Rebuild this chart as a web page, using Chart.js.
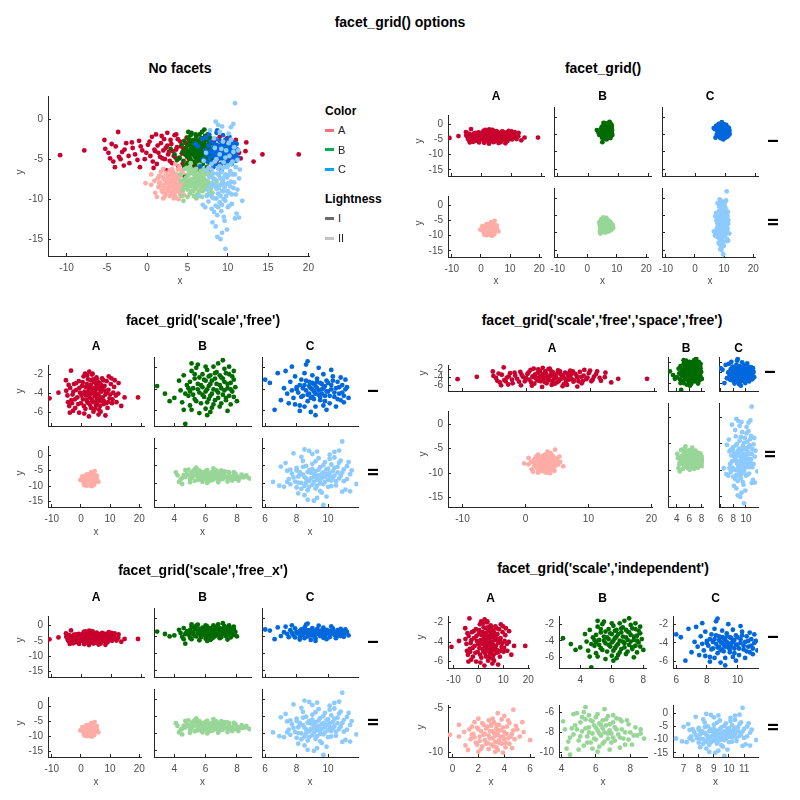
<!DOCTYPE html>
<html>
<head>
<meta charset="utf-8">
<script src="https://cdn.jsdelivr.net/npm/chart.js@4.4.1/dist/chart.umd.min.js"></script>
<style>
  body { margin: 0; background: #fff; font-family: "Liberation Sans", Arial, sans-serif; }
  #page { position: relative; width: 800px; height: 800px; overflow: hidden; }
  canvas { position: absolute; }
  .t { position: absolute; transform: translate(-50%, -50%); white-space: nowrap; color: #000; line-height: 1; }
  .title { font-weight: bold; font-size: 14px; }
  .col { font-weight: bold; font-size: 12px; }
  .row { font-weight: bold; font-size: 15px; transform: translate(-50%, -50%) rotate(-90deg); }
  .ax { font-size: 10px; color: #4d4d4d; }
  .axy { font-size: 10px; color: #4d4d4d; transform: translate(-50%, -50%) rotate(-90deg); }
  .leg { font-size: 11px; color: #222; transform: translate(0, -50%); }
  .legh { font-weight: bold; font-size: 12px; transform: translate(0, -50%); }
  .bar { position: absolute; width: 9px; height: 3px; }
</style>
</head>
<body>
<div id="page"></div>
<script>
// point clouds: [x, y]
const ptsA1 = [[-10.8,-4.5],[-7.8,-3.9],[-3.6,-1.6],[18.8,-4.4],[14.3,-4.4],[13.2,-5.3],[2.4,-6.4],[7.9,-6.3],[-4.0,-6.0],[2.5,-1.7],[-5.3,-2.6],[12.3,-2.9],[11.6,-4.9],
  [-5.2,-3.7],[-4.6,-4.9],[-4.2,-5.3],[-3.9,-3.4],[-3.1,-4.1],[-2.6,-3.0],[-2.2,-5.5],[-1.8,-3.6],[-1.5,-4.4],[-1.0,-2.7],[-0.6,-3.9],[-0.3,-5.0],[0.1,-3.2],[0.4,-4.6],[0.6,-2.2],[0.9,-3.8],[1.2,-5.6],[1.4,-4.2],[1.7,-3.0],[1.9,-4.9],[2.1,-2.5],[2.3,-3.6],[2.6,-4.4],[2.8,-5.2],[3.0,-3.1],[3.2,-4.0],[3.4,-2.0],[3.5,-4.8],[3.7,-3.5],[3.9,-5.9],[4.1,-2.8],[4.3,-4.3],[4.5,-3.7],[4.7,-5.3],[4.9,-2.3],[5.1,-4.6],[5.3,-3.3],[5.5,-4.0],[5.8,-5.7],[6.0,-2.9],[6.2,-4.8],[6.5,-3.8],[6.8,-2.4],[7.0,-4.4],[7.3,-5.1],[7.6,-3.2],[7.9,-4.1],[8.3,-2.7],[8.6,-5.5],[8.9,-3.6],[9.3,-4.5],[9.7,-3.0],[10.1,-5.0],[10.5,-3.9],[11.0,-2.6],[11.4,-4.2],[12.2,-4.0],[0.8,-6.1],[5.6,-6.2],[-2.9,-5.8],[3.6,-1.9],[9.0,-2.2],
  [-4.8,-4.2],[-4.4,-3.1],[-3.5,-4.7],[-2.8,-3.8],[-2.3,-4.6],[-1.9,-2.9],[-1.2,-5.1],[-0.8,-3.4],[-0.1,-4.2],[0.3,-2.8],[0.7,-5.3],[1.0,-4.0],[1.3,-3.3],[1.6,-4.7],[1.8,-2.1],[2.0,-3.9],[2.2,-5.0],[2.5,-3.3],[2.7,-4.1],[2.9,-2.6],[3.1,-5.5],[3.3,-4.6],[3.6,-3.8],[3.8,-2.5],[4.0,-4.9],[4.2,-3.4],[4.4,-5.6],[4.6,-4.1],[4.8,-3.0],[5.0,-5.0],[5.2,-2.6],[5.4,-4.4],[5.7,-3.5],[5.9,-4.3],[6.1,-5.3],[6.4,-3.1],[6.6,-4.6],[6.9,-3.4],[7.2,-2.6],[7.4,-4.8],[7.8,-3.7],[8.1,-5.0],[8.5,-3.9],[8.8,-4.9],[9.5,-4.1],[9.9,-2.4],[10.3,-4.6],[10.8,-3.3],[-3.3,-5.0],[-0.9,-6.0],[6.3,-5.9],[1.1,-1.9]];
const ptsB1 = [[2.9,-3.7],[3.4,-4.4],[4.0,-4.8],[3.7,-5.1],[4.5,-5.2],[4.7,-7.2],[7.1,-1.3],[5.1,-1.6],[7.6,-5.4],[8.0,-5.1],[6.3,-6.1],[5.6,-6.2],[7.8,-3.1],
  [4.3,-3.2],[4.4,-4.1],[4.6,-2.7],[4.8,-3.6],[4.9,-4.6],[5.0,-5.5],[5.1,-2.3],[5.2,-3.9],[5.3,-3.0],[5.3,-4.9],[5.4,-2.0],[5.5,-3.5],[5.6,-4.3],[5.7,-5.3],[5.8,-2.6],[5.8,-3.8],[5.9,-4.7],[6.0,-3.2],[6.0,-5.8],[6.1,-2.2],[6.1,-4.0],[6.2,-4.9],[6.3,-3.5],[6.3,-2.7],[6.4,-4.4],[6.5,-5.4],[6.5,-1.9],[6.6,-3.0],[6.7,-4.1],[6.7,-2.4],[6.8,-4.8],[6.9,-3.6],[6.9,-5.6],[7.0,-2.9],[7.1,-4.5],[7.2,-3.3],[7.2,-2.1],[7.3,-5.0],[7.4,-3.9],[7.5,-4.6],[7.5,-2.6],[7.6,-3.4],[7.7,-4.2],[7.8,-2.3],[7.9,-3.8],[6.1,-6.4],[5.0,-4.2],[4.6,-5.9],[6.8,-1.6],[7.4,-6.0],[5.5,-1.7],
  [5.0,-3.3],[5.2,-4.5],[5.3,-2.6],[5.4,-5.1],[5.5,-4.0],[5.6,-2.9],[5.7,-3.6],[5.8,-4.5],[5.9,-3.1],[6.0,-4.2],[6.1,-5.2],[6.2,-2.8],[6.2,-3.7],[6.3,-4.6],[6.4,-3.2],[6.5,-4.0],[6.6,-2.5],[6.6,-5.0],[6.7,-3.5],[6.8,-4.3],[6.9,-2.7],[7.0,-3.9],[7.0,-5.3],[7.1,-3.0],[7.2,-4.1],[7.3,-2.5],[7.3,-4.8],[7.4,-3.5],[7.6,-4.0],[7.7,-2.8],[7.8,-4.7],[4.9,-3.9],[4.7,-4.4],[5.1,-5.9],[6.4,-5.7],[7.5,-1.9],[6.0,-1.9]];
const ptsC1 = [[6.0,-3.1],[6.3,-3.4],[6.6,-5.9],[6.8,-2.5],[7.7,-1.9],[8.7,-1.4],[8.6,-1.7],[9.2,-6.4],[9.9,-5.9],[10.8,-2.9],[11.2,-3.8],[11.0,-5.2],[7.0,-5.0],[7.5,-5.3],
  [7.2,-3.9],[7.4,-4.4],[7.6,-3.3],[7.8,-4.8],[7.9,-2.8],[8.0,-3.8],[8.1,-4.3],[8.2,-5.5],[8.3,-3.1],[8.4,-4.6],[8.5,-2.5],[8.5,-3.6],[8.6,-4.1],[8.7,-5.1],[8.8,-3.3],[8.8,-4.4],[8.9,-3.9],[9.0,-2.7],[9.0,-4.7],[9.1,-3.5],[9.1,-4.2],[9.2,-5.6],[9.3,-3.0],[9.3,-3.9],[9.4,-4.5],[9.5,-3.4],[9.5,-5.0],[9.6,-4.0],[9.7,-2.6],[9.8,-3.7],[9.8,-4.6],[9.9,-3.2],[10.0,-4.2],[10.1,-5.3],[10.2,-3.6],[10.3,-2.8],[10.4,-4.7],[10.5,-3.9],[10.6,-3.3],[10.7,-4.4],[10.9,-3.6],[11.0,-4.6],[11.1,-4.0],[11.3,-4.8],[8.2,-6.0],[8.9,-6.1],[7.3,-2.3],[9.4,-2.0],[10.2,-2.2],[10.5,-5.6],
  [8.0,-4.0],[8.2,-3.6],[8.3,-4.7],[8.4,-3.9],[8.6,-3.2],[8.7,-4.5],[8.8,-3.7],[8.9,-4.8],[9.0,-3.4],[9.0,-4.0],[9.1,-4.9],[9.2,-3.7],[9.2,-4.4],[9.3,-3.3],[9.4,-4.1],[9.5,-4.7],[9.6,-3.5],[9.6,-4.4],[9.7,-3.9],[9.8,-5.1],[9.9,-4.2],[10.0,-3.4],[10.1,-4.6],[10.2,-4.0],[10.3,-3.2],[10.4,-4.3],[10.6,-4.9],[10.7,-3.8],[10.9,-4.3],[11.1,-3.1],[7.9,-5.4],[8.5,-5.6],[7.7,-4.1],[9.7,-5.5],[10.8,-5.0]];
const ptsA2 = [[-0.2,-8.0],[0.5,-6.9],[0.5,-8.2],[4.7,-5.2],[3.5,-5.6],[4.0,-5.9],[6.0,-8.6],[5.4,-6.6],[4.9,-7.0],[1.0,-9.2],[1.2,-9.7],[2.0,-9.9],[3.3,-9.9],[3.9,-10.0],[2.0,-6.2],[4.4,-9.0],
  [1.3,-7.4],[1.4,-8.5],[1.6,-7.9],[1.7,-6.6],[1.8,-8.9],[1.9,-7.2],[2.1,-8.2],[2.2,-7.6],[2.3,-9.3],[2.4,-6.9],[2.5,-8.6],[2.5,-7.9],[2.6,-7.3],[2.7,-8.9],[2.8,-6.4],[2.8,-8.1],[2.9,-7.6],[3.0,-9.1],[3.0,-7.0],[3.1,-8.4],[3.2,-7.8],[3.2,-6.6],[3.3,-8.8],[3.4,-7.3],[3.4,-9.4],[3.5,-8.0],[3.6,-6.9],[3.6,-8.6],[3.7,-7.5],[3.8,-9.0],[3.8,-6.3],[3.9,-8.2],[4.0,-7.7],[4.1,-8.9],[4.2,-7.1],[4.3,-8.4],[4.4,-6.7],[4.6,-7.9],[4.8,-8.5],[5.0,-7.4],[1.5,-8.0],[2.2,-9.6],[3.5,-9.7],[4.6,-9.5],[0.9,-7.7],[5.2,-8.2],
  [1.5,-7.1],[1.7,-8.3],[2.0,-7.4],[2.1,-8.7],[2.3,-6.7],[2.4,-8.0],[2.6,-9.0],[2.7,-7.1],[2.9,-8.4],[3.0,-6.8],[3.1,-7.6],[3.2,-9.3],[3.3,-8.1],[3.4,-6.9],[3.5,-7.6],[3.6,-8.9],[3.7,-8.2],[3.9,-7.2],[4.0,-8.5],[4.2,-7.9],[4.3,-6.4],[4.5,-8.2],[4.7,-7.5],[2.8,-9.6],[1.9,-9.1],[3.1,-6.2],[4.1,-9.4],[5.5,-7.7]];
const ptsB2 = [[4.1,-6.9],[4.2,-7.7],[4.4,-8.9],[4.3,-9.6],[4.5,-10.2],[5.4,-5.5],[6.5,-5.7],[8.6,-7.7],[8.8,-8.6],[8.1,-9.2],[7.7,-9.2],[4.7,-6.2],[4.9,-6.1],[5.6,-6.3],[7.4,-6.7],[7.8,-6.8],[6.1,-9.9],
  [4.7,-8.2],[4.8,-7.3],[5.0,-8.8],[5.1,-7.0],[5.2,-7.9],[5.3,-9.3],[5.4,-6.7],[5.5,-8.4],[5.6,-7.5],[5.7,-9.0],[5.8,-6.9],[5.8,-8.1],[5.9,-7.3],[6.0,-8.7],[6.0,-6.5],[6.1,-7.8],[6.2,-9.4],[6.2,-7.1],[6.3,-8.3],[6.4,-6.8],[6.4,-7.6],[6.5,-8.9],[6.6,-7.3],[6.7,-8.1],[6.7,-6.4],[6.8,-7.8],[6.9,-9.0],[7.0,-7.0],[7.0,-8.5],[7.1,-7.5],[7.2,-6.6],[7.3,-8.2],[7.4,-9.5],[7.5,-7.7],[7.6,-8.6],[7.9,-7.2],[8.0,-8.0],[8.3,-7.5],[8.4,-8.3],[5.3,-6.0],[6.8,-9.7],[4.6,-7.6],[5.0,-9.7],
  [4.9,-7.7],[5.1,-8.4],[5.2,-6.5],[5.4,-7.6],[5.5,-9.0],[5.6,-8.0],[5.7,-6.8],[5.9,-8.6],[6.0,-7.5],[6.1,-6.2],[6.2,-8.1],[6.3,-7.3],[6.4,-9.1],[6.5,-8.0],[6.6,-6.7],[6.7,-8.6],[6.8,-7.2],[6.9,-8.1],[7.0,-6.3],[7.1,-8.8],[7.2,-7.7],[7.4,-8.5],[7.5,-6.9],[7.7,-8.0],[7.9,-8.7],[8.2,-8.3],[5.8,-9.6],[4.5,-8.5],[8.6,-8.1]];
const ptsC2 = [[6.5,-9.6],[6.9,-10.7],[10.9,2.0],[10.7,-0.6],[10.4,-1.0],[11.8,-10.2],[9.7,-16.2],[8.5,-0.3],[8.8,-0.7],[7.8,-1.4],[11.5,-6.3],[11.4,-7.4],[10.9,-12.4],[11.1,-11.8],[8.1,-12.9],[8.5,-13.4],[9.3,-14.2],[9.1,-15.0],[11.4,-12.3],[7.0,-5.2],[7.3,-4.2],
  [7.4,-6.4],[7.5,-8.8],[7.6,-10.3],[7.7,-7.2],[7.9,-9.5],[8.0,-5.6],[8.0,-11.2],[8.1,-8.1],[8.2,-6.8],[8.3,-9.9],[8.4,-3.6],[8.4,-7.5],[8.5,-10.8],[8.6,-5.0],[8.6,-8.7],[8.7,-12.0],[8.8,-6.2],[8.8,-9.3],[8.9,-7.0],[9.0,-10.4],[9.0,-4.4],[9.1,-8.2],[9.2,-11.5],[9.2,-6.6],[9.3,-9.0],[9.4,-2.8],[9.4,-7.7],[9.5,-10.0],[9.5,-5.4],[9.6,-12.7],[9.6,-8.5],[9.7,-6.9],[9.8,-3.9],[9.8,-9.6],[9.9,-7.3],[10.0,-5.8],[10.0,-11.0],[10.1,-8.0],[10.2,-4.6],[10.2,-9.2],[10.3,-6.5],[10.4,-2.6],[10.4,-7.8],[10.5,-10.6],[10.6,-5.3],[10.7,-8.6],[10.8,-3.5],[10.9,-6.9],[11.0,-9.4],[11.2,-5.1],[9.9,-13.8],[8.7,-14.7],[10.1,-1.8],[7.2,-11.0],[9.3,-0.9],
  [7.8,-8.3],[8.0,-6.3],[8.1,-9.8],[8.2,-7.4],[8.3,-11.6],[8.4,-5.3],[8.5,-8.2],[8.6,-9.9],[8.7,-6.8],[8.8,-11.0],[8.9,-8.6],[9.0,-5.9],[9.1,-9.6],[9.1,-7.4],[9.2,-3.7],[9.3,-10.7],[9.3,-8.0],[9.4,-6.1],[9.5,-9.0],[9.5,-12.2],[9.6,-7.2],[9.7,-4.8],[9.7,-10.2],[9.8,-8.1],[9.9,-6.0],[10.0,-9.0],[10.1,-3.0],[10.1,-7.0],[10.2,-10.8],[10.3,-8.4],[10.4,-5.6],[10.5,-9.4],[10.6,-6.9],[10.7,-4.1],[10.8,-7.9],[11.0,-6.0],[11.2,-8.8],[7.6,-6.1],[7.4,-9.6],[8.3,-2.4],[9.0,-1.6],[11.3,-3.9]];

const colorNames = ["A", "B", "C"];
const lightNames = ["I", "II"];
const pointColors = [["#c8002e", "#006c00", "#0068dc"], ["#ffaca6", "#98d698", "#8ccaff"]];
const legendColors = ["#ff6f76", "#00b04f", "#00a6ff"];
const legendLight = ["#6b6b6b", "#c4c4c4"];

// tick values
const ticksNoFacetX = [-10, -5, 0, 5, 10, 15, 20];
const ticksWideX = [-10, 0, 10, 20];
const ticksFullY = [0, -5, -10, -15];
const ticksTopY = [-2, -4, -6];
const ticksBX = [4, 6, 8];
const ticksCX = [6, 8, 10];
const ticksA2X = [0, 2, 4, 6];
const ticksA2Y = [-5, -10];
const ticksB2Y = [-6, -8, -10];
const ticksC2X = [7, 8, 9, 10, 11];

const grid = [[ptsA1, ptsB1, ptsC1], [ptsA2, ptsB2, ptsC2]];

const page = document.getElementById("page");
const FONT = "'Liberation Sans', Arial, sans-serif";
const YW = 40, XH = 22, PT = 6, PR = 10;

function axis(range, ticks, showLabels, dir) {
  return {
    type: "linear",
    min: range[0],
    max: range[1],
    afterBuildTicks: (s) => { s.ticks = ticks.map((v) => ({ value: v })); },
    afterFit: (s) => { if (dir === "x") s.height = XH; else s.width = YW; },
    grid: { display: true, drawOnChartArea: false, drawTicks: true, tickLength: -3, color: "#262626", lineWidth: 1 },
    border: { display: true, color: "#262626", width: 1 },
    ticks: {
      display: showLabels,
      color: "#4d4d4d",
      font: { size: 10, family: FONT },
      padding: dir === "x" ? 9 : 8,
      maxRotation: 0,
      autoSkip: false,
    },
  };
}

function addPanel(box, series, xr, yr, xt, yt, showX, showY) {
  const [l, t, r, b] = box;
  const cv = document.createElement("canvas");
  cv.width = YW + (r - l) + PR;
  cv.height = PT + (b - t) + XH;
  cv.style.left = (l - YW) + "px";
  cv.style.top = (t - PT) + "px";
  page.appendChild(cv);
  new Chart(cv, {
    type: "scatter",
    data: {
      datasets: series.map((s) => ({
        data: s.pts.map((p) => ({ x: p[0], y: p[1] })),
        backgroundColor: s.color,
        borderWidth: 0,
        pointRadius: 2.4,
        pointHoverRadius: 2.4,
      })),
    },
    options: {
      responsive: false,
      animation: false,
      events: [],
      layout: { padding: { top: PT, right: PR, left: 0, bottom: 0 } },
      plugins: { legend: { display: false }, tooltip: { enabled: false } },
      scales: {
        x: axis(xr, xt, showX, "x"),
        y: axis(yr, yt, showY, "y"),
      },
    },
  });
}

function txt(s, x, y, cls) {
  const d = document.createElement("div");
  d.className = "t " + cls;
  d.textContent = s;
  d.style.left = x + "px";
  d.style.top = y + "px";
  page.appendChild(d);
}

function cell(r, c) {
  return [{ pts: grid[r][c], color: pointColors[r][c] }];
}

// main title
txt("facet_grid() options", 400, 22, "title");

// ---- No facets ----
txt("No facets", 180, 68, "title");
const allSeries = [];
for (let c = 2; c >= 0; c--) {
  for (let r = 1; r >= 0; r--) allSeries.push({ pts: grid[r][c], color: pointColors[r][c] });
}
addPanel([48, 88, 313, 256], allSeries, [-12.3, 20.2], [-17.1, 2.9], ticksNoFacetX, ticksFullY, true, true);
txt("x", 180, 281, "ax");
txt("y", 20, 172, "axy");
txt("Color", 325, 111, "legh");
txt("Lightness", 325, 199, "legh");
colorNames.forEach((n, i) => {
  const yy = 130 + i * 19.5;
  const bar = document.createElement("div");
  bar.className = "bar";
  bar.style.left = "325px"; bar.style.top = (yy - 1.5) + "px"; bar.style.background = legendColors[i];
  page.appendChild(bar);
  txt(n, 338, yy, "leg");
});
lightNames.forEach((n, i) => {
  const yy = 218 + i * 20;
  const bar = document.createElement("div");
  bar.className = "bar";
  bar.style.left = "325px"; bar.style.top = (yy - 1.5) + "px"; bar.style.background = legendLight[i];
  page.appendChild(bar);
  txt(n, 338, yy, "leg");
});

// ---- facet_grid() ----
txt("facet_grid()", 603, 68, "title");
const fgCols = [[448, 544], [554, 651], [662, 758]];
const fgRows = [[107, 176], [188, 257]];
for (let r = 0; r < 2; r++) {
  for (let c = 0; c < 3; c++) {
    addPanel([fgCols[c][0], fgRows[r][0], fgCols[c][1], fgRows[r][1]], cell(r, c),
      [-11.3, 20.8], [-17, 3], ticksWideX, ticksFullY, r === 1, c === 0);
  }
}
fgCols.forEach((cc, c) => { txt(colorNames[c], (cc[0] + cc[1]) / 2, 96, "col"); txt("x", (cc[0] + cc[1]) / 2, 281, "ax"); });
txt("I", 772, 141, "row"); txt("II", 772, 222, "row");
txt("y", 419, 141, "axy"); txt("y", 419, 223, "axy");

// ---- facet_grid('scale','free') ----
txt("facet_grid('scale','free')", 203, 320, "title");
const sfCols = [[48, 144], [154, 251], [262, 358]];
const sfRows = [[357, 426], [438, 507]];
const sfX = [[-11.3, 20.8], [2.7, 8.9], [5.8, 11.9]];
const sfXT = [ticksWideX, ticksBX, ticksCX];
const sfY = [[-7.4, -1.0], [-16.8, 3.0]];
const sfYT = [ticksTopY, ticksFullY];
for (let r = 0; r < 2; r++) {
  for (let c = 0; c < 3; c++) {
    addPanel([sfCols[c][0], sfRows[r][0], sfCols[c][1], sfRows[r][1]], cell(r, c),
      sfX[c], sfY[r], sfXT[c], sfYT[r], r === 1, c === 0);
  }
}
sfCols.forEach((cc, c) => { txt(colorNames[c], (cc[0] + cc[1]) / 2, 346, "col"); txt("x", (cc[0] + cc[1]) / 2, 532, "ax"); });
txt("I", 372, 391, "row"); txt("II", 372, 472, "row");
txt("y", 20, 391, "axy"); txt("y", 20, 473, "axy");

// ---- facet_grid('scale','free','space','free') ----
txt("facet_grid('scale','free','space','free')", 602, 320, "title");
const ssCols = [[448, 656], [668, 704], [719, 758]];
const ssRows = [[357, 391], [403, 507]];
const ssX = [[-12.3, 20.2], [2.6, 8.35], [5.75, 11.9]];
const ssY = [[-7.4, -1.0], [-16.9, 2.7]];
for (let r = 0; r < 2; r++) {
  for (let c = 0; c < 3; c++) {
    addPanel([ssCols[c][0], ssRows[r][0], ssCols[c][1], ssRows[r][1]], cell(r, c),
      ssX[c], ssY[r], sfXT[c], sfYT[r], r === 1, c === 0);
  }
}
ssCols.forEach((cc, c) => { txt(colorNames[c], (cc[0] + cc[1]) / 2, 348, "col"); });
txt("I", 769, 372, "row"); txt("II", 769, 454, "row");
txt("y", 423, 373, "axy"); txt("y", 423, 454, "axy");

// ---- facet_grid('scale','free_x') ----
txt("facet_grid('scale','free_x')", 203, 570, "title");
const fxRows = [[608, 677], [689, 757]];
for (let r = 0; r < 2; r++) {
  for (let c = 0; c < 3; c++) {
    addPanel([sfCols[c][0], fxRows[r][0], sfCols[c][1], fxRows[r][1]], cell(r, c),
      sfX[c], [-16.8, 3.1], sfXT[c], ticksFullY, r === 1, c === 0);
  }
}
sfCols.forEach((cc, c) => { txt(colorNames[c], (cc[0] + cc[1]) / 2, 597, "col"); txt("x", (cc[0] + cc[1]) / 2, 782, "ax"); });
txt("I", 372, 642, "row"); txt("II", 372, 722, "row");
txt("y", 20, 640, "axy"); txt("y", 20, 723, "axy");

// ---- facet_grid('scale','independent') ----
txt("facet_grid('scale','independent')", 603, 568, "title");
const inCols = [[[448, 533], [559, 646], [673, 758]], [[448, 534], [559, 647], [673, 758]]];
const inRows = [[608, 668], [697, 757]];
const inX = [[[-12.2, 20.6], [2.65, 8.17], [5.79, 11.34]], [[-0.35, 6.3], [3.86, 8.97], [6.3, 11.92]]];
const inY = [[[-6.65, -1.35], [-7.28, -1.02], [-6.68, -1.13]], [[-10.48, -4.68], [-10.42, -5.29], [-16.6, 3.05]]];
const inXT = [[ticksWideX, ticksBX, ticksCX], [ticksA2X, ticksBX, ticksC2X]];
const inYT = [[ticksTopY, ticksTopY, ticksTopY], [ticksA2Y, ticksB2Y, ticksFullY]];
for (let r = 0; r < 2; r++) {
  for (let c = 0; c < 3; c++) {
    const cc = inCols[r][c];
    addPanel([cc[0], inRows[r][0], cc[1], inRows[r][1]], cell(r, c),
      inX[r][c], inY[r][c], inXT[r][c], inYT[r][c], true, true);
  }
}
inCols[0].forEach((cc, c) => { txt(colorNames[c], (cc[0] + cc[1]) / 2, 598, "col"); });
inCols[1].forEach((cc) => { txt("x", (cc[0] + cc[1]) / 2, 782, "ax"); });
txt("I", 772, 637, "row"); txt("II", 772, 727, "row");
txt("y", 421, 637, "axy"); txt("y", 421, 727, "axy");
</script>
</body>
</html>
